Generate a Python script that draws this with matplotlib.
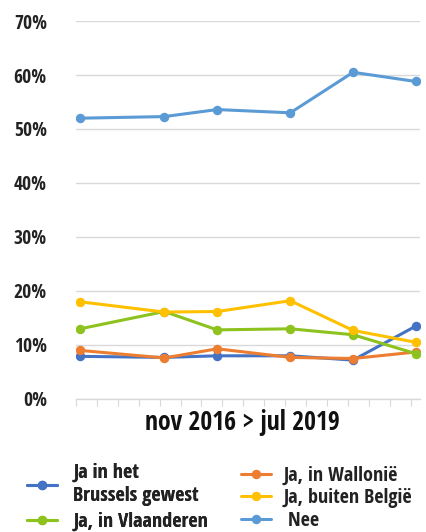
import matplotlib
matplotlib.use("Agg")
import matplotlib.pyplot as plt
from matplotlib.ticker import FuncFormatter, MultipleLocator
from matplotlib.font_manager import FontProperties

# months since Nov 2016 for each survey
months = [0.4, 8.45, 13.5, 20.5, 26.5, 32.5]
brussels = [7.9, 7.7, 8.0, 8.0, 7.2, 13.5]
wallonie = [9.0, 7.6, 9.3, 7.7, 7.5, 8.7]
vlaanderen = [13.0, 16.2, 12.8, 13.0, 11.9, 8.4]
buiten = [18.0, 16.1, 16.2, 18.2, 12.7, 10.5]
nee = [52.0, 52.3, 53.6, 53.0, 60.5, 58.8]

labels = ["Ja in het\nBrussels gewest", "Ja, in Wallonië", "Ja, in Vlaanderen",
          "Ja, buiten België", " Nee"]
colors = ["#4472C4", "#ED7D31", "#8DC21F", "#FFC000", "#5B9BD5"]
series = [brussels, wallonie, vlaanderen, buiten, nee]
yticks = [0, 10, 20, 30, 40, 50, 60, 70]
xlabel = "nov 2016 > jul 2019"

FAM = ["Open Sans Condensed", "DejaVu Sans"]

def fp(size):
    return FontProperties(family=FAM, weight=700, stretch="condensed", size=size)

fig = plt.figure(figsize=(4.26, 5.32), dpi=100)
ax = fig.add_axes([76/426, 1-399/532, (420-76)/426, (399-21)/532])

lines = []
for vals, c, lab in zip(series, colors, labels):
    ln, = ax.plot(months, vals, color=c, lw=2.2, marker="o", ms=5.8,
                  label=lab, solid_capstyle="round")
    lines.append(ln)

ax.set_ylim(0, 70)
ax.set_xlim(0, 32.9)
ax.set_yticks(yticks)
ax.yaxis.set_major_formatter(FuncFormatter(lambda v, p: f"{int(v)}%"))
ax.grid(axis="y", color="#d9d9d9", lw=1)
ax.set_axisbelow(True)
for s in ["top", "right", "left"]:
    ax.spines[s].set_visible(False)
ax.spines["bottom"].set_color("#d9d9d9")
ax.spines["bottom"].set_linewidth(1)
ax.tick_params(axis="y", length=0, pad=21)
ax.xaxis.set_major_locator(MultipleLocator(2))
ax.tick_params(axis="x", length=5, color="#d9d9d9", labelbottom=False)
for t in ax.get_yticklabels():
    t.set_fontproperties(fp(14))
    t.set_color("#222222")
ax.set_xlabel(xlabel, fontproperties=fp(18.5), labelpad=2, color="#111111")
ax.xaxis.label.set_x(0.485)

lfont = fp(14.5)
leg1 = fig.legend([lines[0], lines[2]], [labels[0], labels[2]],
                  loc="upper left", bbox_to_anchor=(19/426, 1-455/532),
                  frameon=False, prop=lfont, handlelength=1.5,
                  handletextpad=0.8, labelspacing=0.3, borderaxespad=0)
fig.add_artist(leg1)
leg2 = fig.legend([lines[1], lines[3], lines[4]], [labels[1], labels[3], labels[4]],
                  loc="upper left", bbox_to_anchor=(233/426, 1-458/532),
                  frameon=False, prop=lfont, handlelength=1.5,
                  handletextpad=0.6, labelspacing=0.12, borderaxespad=0)
for leg in (leg1, leg2):
    for t in leg.get_texts():
        t.set_color("#222222")

fig.savefig("out.png", dpi=100)
